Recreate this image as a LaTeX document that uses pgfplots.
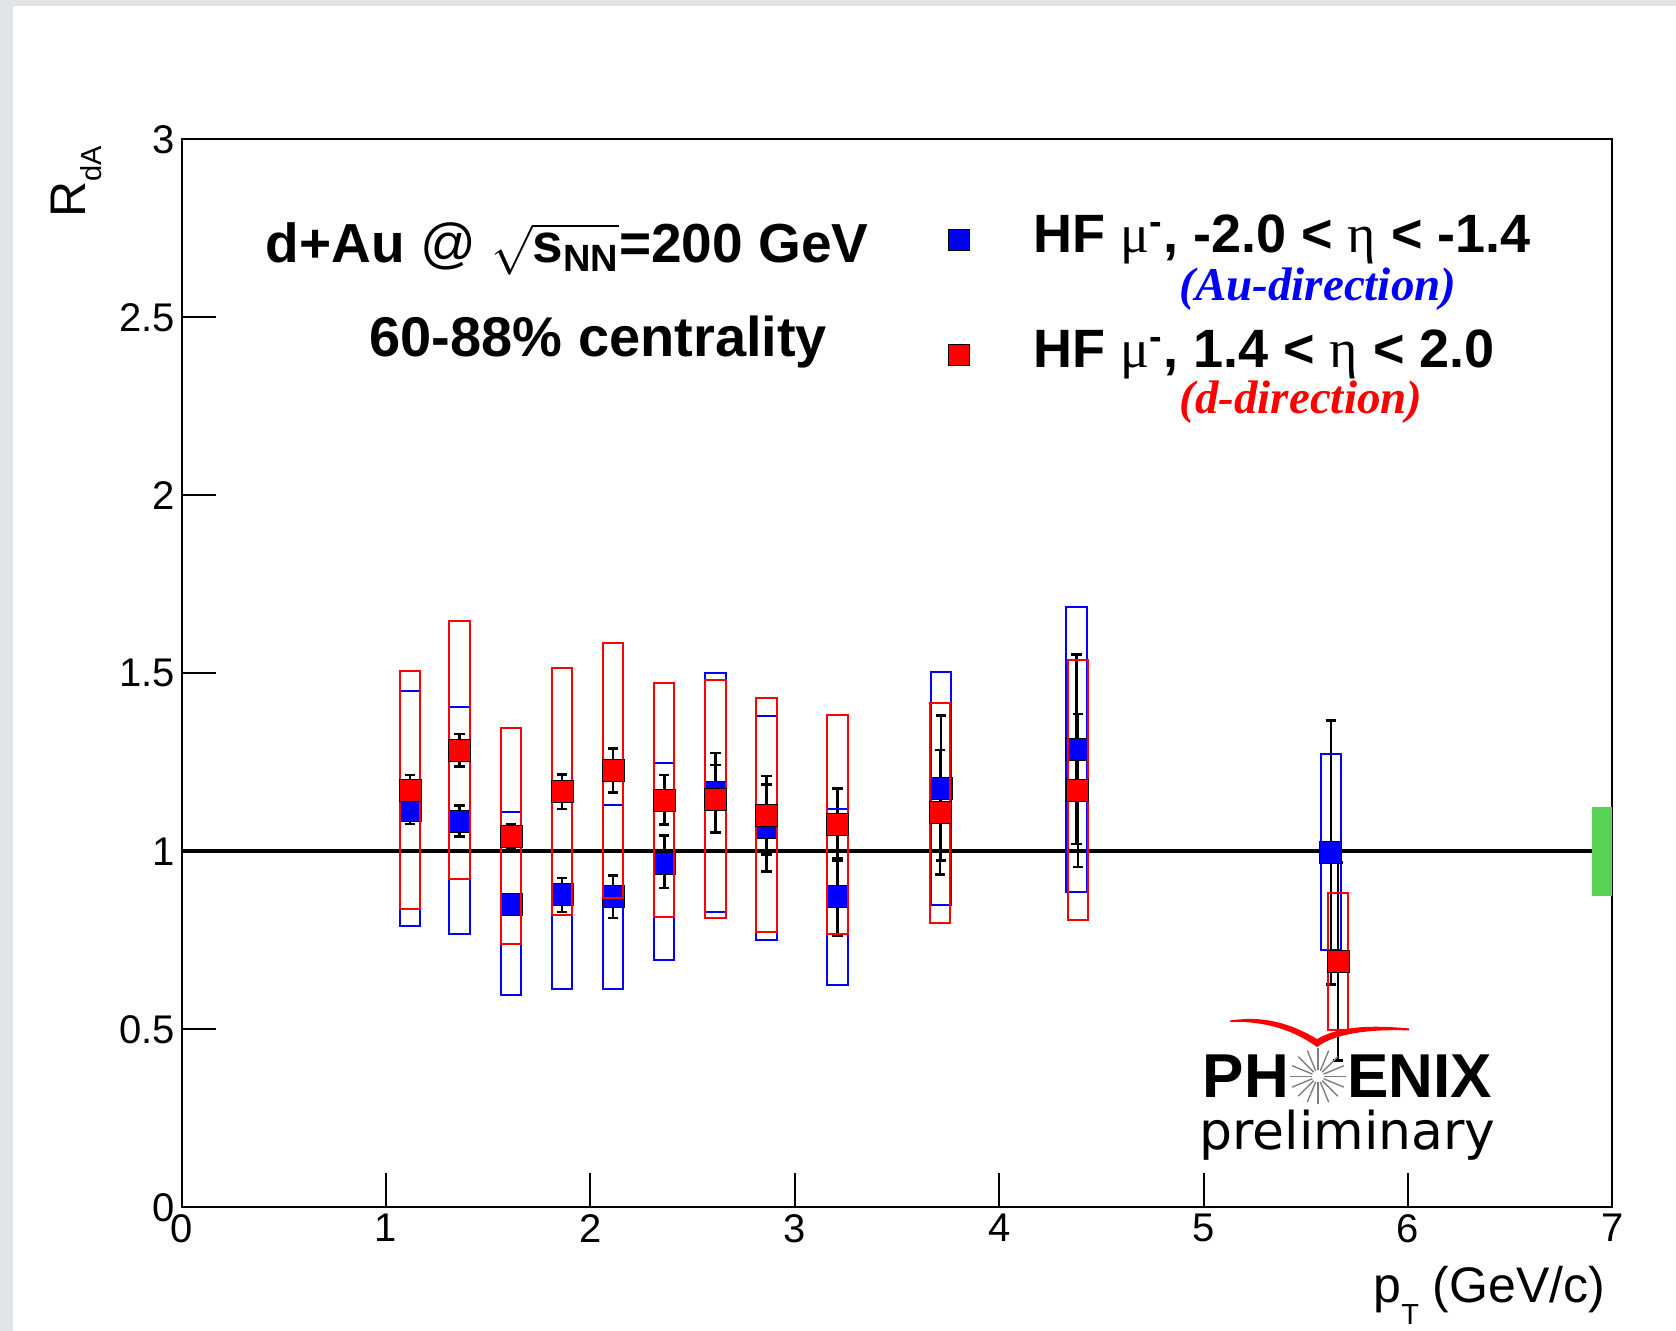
\documentclass[border=0pt]{standalone}
\usepackage{pgfplots}
\pgfplotsset{compat=1.18}
\usepackage{pgfplotstable}
\usepackage{fontspec}
\setmainfont{Liberation Sans}
\newfontfamily\timesfont{Liberation Serif}
\newfontfamily\dejavu{DejaVu Sans}
\definecolor{bgray}{RGB}{225,228,232}
\definecolor{ngreen}{RGB}{89,211,83}
\pgfdeclareplotmark{emptymark}{}

% x  y  stat-low stat-high  sys-low sys-high
\pgfplotstableread{
x y slo shi blo bhi
1.117 1.114 1.077 1.151 0.789 1.449
1.360 1.085 1.041 1.129 0.768 1.404
1.611 0.852 0.832 0.872 0.595 1.110
1.861 0.878 0.829 0.925 0.612 1.144
2.111 0.872 0.813 0.932 0.614 1.129
2.361 0.965 0.897 1.044 0.694 1.248
2.612 1.165 1.052 1.276 0.829 1.501
2.862 1.066 0.944 1.188 0.751 1.381
3.209 0.872 0.764 0.979 0.624 1.120
3.715 1.178 0.974 1.382 0.850 1.504
4.379 1.286 1.020 1.552 0.886 1.686
5.623 0.998 0.626 1.368 0.723 1.272
}\bluedata

\pgfplotstableread{
x y slo shi blo bhi
1.117 1.171 1.128 1.214 0.838 1.506
1.360 1.284 1.239 1.330 0.922 1.648
1.611 1.041 1.008 1.075 0.740 1.345
1.861 1.169 1.119 1.216 0.822 1.514
2.111 1.227 1.166 1.289 0.868 1.586
2.361 1.143 1.075 1.214 0.816 1.474
2.612 1.147 1.052 1.242 0.813 1.482
2.862 1.101 0.991 1.211 0.773 1.431
3.209 1.075 0.974 1.176 0.768 1.382
3.710 1.109 0.934 1.284 0.799 1.417
4.385 1.171 0.956 1.386 0.806 1.538
5.658 0.691 0.413 0.969 0.499 0.883
}\reddata

\pgfplotsset{
  sysbox/.style={
    forget plot, only marks, mark=emptymark, scatter,
    visualization depends on={\thisrow{bhi}-\thisrow{y} \as \bup},
    visualization depends on={\thisrow{y}-\thisrow{blo} \as \bdn},
    scatter/@pre marker code/.code={\draw[#1, line width=1pt] (axis direction cs:-0.05,-\bdn) rectangle (axis direction cs:0.05,\bup);},
    scatter/@post marker code/.code={},
  },
  staterr/.style={
    forget plot, only marks, mark=none,
    error bars/.cd, y dir=both, y explicit,
    error bar style={black, line width=1.3pt},
    error mark options={black, line width=1.3pt, mark size=2.6pt, rotate=90},
  },
  datamark/.style={
    forget plot, only marks, mark=square*, mark size=5.5pt,
    mark options={fill=#1, draw=none},
  },
}

\begin{document}
\begin{tikzpicture}
\fill[bgray] (0pt,0pt) rectangle (838pt,-665.5pt);
\fill[white] (6.35pt,-2.9pt) rectangle (838pt,-665.5pt);
\begin{axis}[
  at={(90.85pt,-603.65pt)}, anchor=south west,
  scale only axis, width=715.3pt, height=534pt,
  xmin=0, xmax=7, ymin=0, ymax=3,
  xtick={0,1,2,3,4,5,6,7}, ytick={0,0.5,1,1.5,2,2.5,3},
  tick pos=left, tick align=inside,
  major tick length=17pt,
  axis line style={line width=1pt},
  every tick/.style={black, line width=1pt},
  tick label style={font=\fontsize{20}{20}\selectfont},
  /pgf/number format/assume math mode=true,
  clip=false,
  legend style={draw=none, fill=none, inner sep=0pt, outer sep=0pt,
    at={(0.5358,0.931)}, anchor=north west,
    font=\fontsize{27}{27}\selectfont\bfseries,
    nodes={inner sep=0pt}, row sep=36pt, legend cell align=left,
    /tikz/every odd column/.append style={column sep=32pt}},
  legend image code/.code={\draw[#1] plot coordinates {(0pt,-2.7pt)};},
]
% systematic boxes, statistical errors and points
\addplot[sysbox=blue] table[x=x,y=y]{\bluedata};
\addplot[staterr] table[x=x, y=y, y error plus expr=\thisrow{shi}-\thisrow{y}, y error minus expr=\thisrow{y}-\thisrow{slo}]{\bluedata};
\addplot[datamark=blue] table[x=x,y=y]{\bluedata};
\addplot[sysbox=red] table[x=x,y=y]{\reddata};
\addplot[staterr] table[x=x, y=y, y error plus expr=\thisrow{shi}-\thisrow{y}, y error minus expr=\thisrow{y}-\thisrow{slo}]{\reddata};
\addplot[datamark=red] table[x=x,y=y]{\reddata};
% reference line and normalisation box
\addplot[forget plot, black, line width=2pt] coordinates {(0,1) (6.9,1)};
\addplot[forget plot, fill=ngreen, draw=none] coordinates {(6.9,0.874) (7,0.874) (7,1.124) (6.9,1.124)} -- cycle;

\addlegendimage{only marks, mark=square*, mark size=5.4pt, mark options={fill=blue, draw=none}}
\addlegendentry{\rule[-10pt]{0pt}{30pt}HF {\timesfont\mdseries μ}\textsuperscript{-}, -2.0 < {\timesfont\mdseries η} < -1.4}
\addlegendimage{only marks, mark=square*, mark size=5.4pt, mark options={fill=red, draw=none}}
\addlegendentry{\rule[-10pt]{0pt}{30pt}HF {\timesfont\mdseries μ}\textsuperscript{-}, 1.4 < {\timesfont\mdseries η} < 2.0}

\node[anchor=base west, text=blue, font=\timesfont\bfseries\itshape\fontsize{23.5}{23.5}\selectfont] at (axis cs:4.848,2.546) {(Au-direction)};
\node[anchor=base west, text=red, font=\timesfont\bfseries\itshape\fontsize{23.5}{23.5}\selectfont] at (axis cs:4.848,2.229) {(d-direction)};

\node[anchor=base, font=\bfseries\fontsize{27.5}{27.5}\selectfont] at (axis cs:1.886,2.655)
  {d+Au {\mdseries @} $\sqrt{\mbox{\bfseries\fontsize{27.5}{27.5}\selectfont s}_{\mbox{\bfseries\fontsize{19}{19}\selectfont NN}}}$=200 GeV};
\node[anchor=base, font=\bfseries\fontsize{28}{28}\selectfont] at (axis cs:2.039,2.39) {60-88\% centrality};

\node[anchor=base east, font=\fontsize{25}{25}\selectfont] at (axis cs:7,-0.268)
  {p\raisebox{-11pt}{\fontsize{14.5}{14.5}\selectfont T}\ (GeV/c)};
\node[anchor=base east, rotate=90, font=\fontsize{25}{25}\selectfont] at (axis cs:-0.471,3)
  {R\raisebox{-8pt}{\fontsize{14.5}{14.5}\selectfont dA}};
\end{axis}

% PHENIX preliminary logo
\begin{scope}[x=1pt,y=1pt]
\fill[red] (615,-510.3) .. controls (632,-507.5) and (646,-512) .. (658.5,-519.5)
  .. controls (670,-513) and (685,-512.5) .. (704.5,-514.2) -- (704.5,-515.2)
  .. controls (685,-514.6) and (668,-516.5) .. (658.5,-523.5)
  .. controls (646,-514.5) and (632,-510.6) .. (615,-510.9) -- cycle;
\node[anchor=base west, inner sep=0pt, font=\bfseries\fontsize{31}{31}\selectfont] at (601.2,-548.9) {PH};
\node[anchor=base west, inner sep=0pt, font=\bfseries\fontsize{31}{31}\selectfont] at (673.4,-548.9) {ENIX};
\foreach \a in {0,22.5,...,337.5}
  \draw[gray, line width=0.7pt] (659,-538.2) ++(\a:3pt) -- ++(\a:11pt);
\node[anchor=base west, inner sep=0pt, font=\dejavu\fontsize{26}{26}\selectfont] at (599.5,-574.5) {preliminary};
\end{scope}
\pgfresetboundingbox
\useasboundingbox (0pt,0pt) rectangle (838pt,-665.5pt);
\end{tikzpicture}
\end{document}
